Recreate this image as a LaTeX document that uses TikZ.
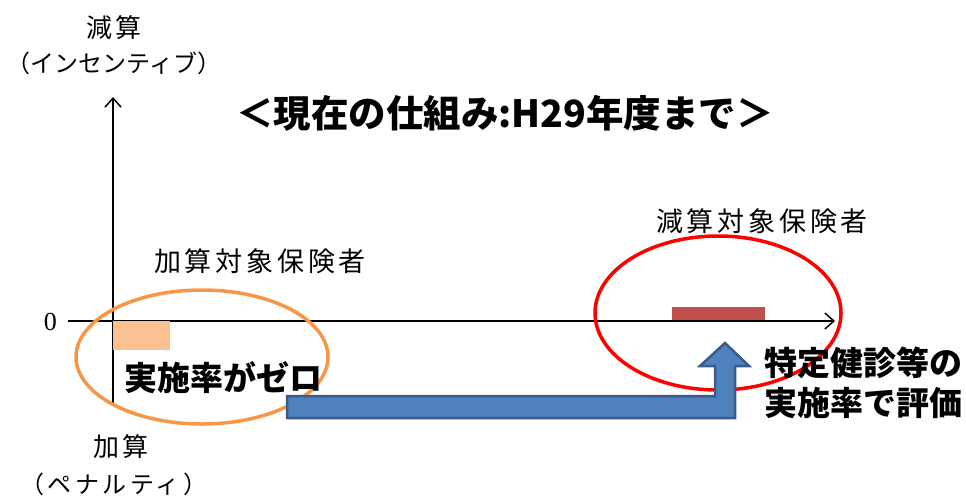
\documentclass[tikz,border=0pt]{standalone}
\usepackage{fontspec}
\usetikzlibrary{arrows.meta}
\newfontfamily\jpfont{Noto Sans CJK JP}
\newfontfamily\jpwide[LetterSpace=14]{Noto Sans CJK JP}
\setmainfont{Liberation Serif}
\definecolor{barorange}{HTML}{FAC090}
\definecolor{barred}{HTML}{C0504D}
\definecolor{ringorange}{HTML}{F79646}
\definecolor{flowblue}{HTML}{4F81BD}
\definecolor{flowedge}{HTML}{385D8A}
\tikzset{
  axislbl/.style={font=\jpwide\fontsize{26}{30}\selectfont, inner sep=0pt},
  parenlbl/.style={font=\jpfont\fontsize{24}{30}\selectfont, inner sep=0pt},
  grplbl/.style={font=\jpwide\fontsize{27}{32}\selectfont, inner sep=0pt},
  boldlbl/.style={font=\jpfont\bfseries\fontsize{33}{40}\selectfont, inner sep=0pt},
  ring/.style={line width=3.5pt},
}
\begin{document}
\begin{tikzpicture}[x=1pt,y=-1pt,>={Straight Barb[length=9pt,width=16pt]}]
  \useasboundingbox (0,0) rectangle (966,499);
  % axes
  \coordinate (yb) at (113,405);
  \coordinate (yt) at (113,97);
  \coordinate (xl) at (68,321);
  \coordinate (xr) at (835,321);
  \draw[line width=1.5pt,->] (yb) -- (yt);
  \draw[line width=1.5pt,->] (xl) -- (xr);
  \node[anchor=east,font=\fontsize{26}{30}\selectfont,inner sep=0pt] (zero) at (57,322) {0};
  % axis labels
  \node[axislbl] (minus) at (114,28) {減算};
  \node[parenlbl,font=\jpfont\fontsize{24}{30}\selectfont] (minusb) at (114,63) {（インセンティブ）};
  \node[axislbl] (plus) at (121,447) {加算};
  \node[parenlbl,font=\jpwide\fontsize{24}{30}\selectfont] (plusb) at (114,484) {（ペナルティ）};
  % title
  \node[font=\jpfont\bfseries\fontsize{37.5}{44}\selectfont,inner sep=0pt] (title) at (505,113) {＜現在の仕組み:H29年度まで＞};
  % groups
  \node[grplbl] (grpm) at (762,221) {減算対象保険者};
  \node[grplbl] (grpp) at (260,261) {加算対象保険者};
  \fill[barorange] (113,321) rectangle (170,350);
  \fill[barred] (672,307) rectangle (765,320);
  \draw[ring,ringorange] (202,357) ellipse [x radius=126, y radius=67];
  \draw[ring,red] (718,313) ellipse [x radius=123, y radius=77];
  \node[boldlbl] (zerolbl) at (223,378) {実施率がゼロ};
  \node[boldlbl,align=left,anchor=west] (evallbl) at (764,383) {特定健診等の\\実施率で評価};
  % bent arrow
  \filldraw[fill=flowblue,draw=flowedge,line width=2.5pt,line join=miter]
    (287,396) -- (715,396) -- (715,366) -- (700,366) -- (725,343) -- (749,366)
    -- (735,366) -- (735,418) -- (287,418) -- cycle;
\end{tikzpicture}
\end{document}
